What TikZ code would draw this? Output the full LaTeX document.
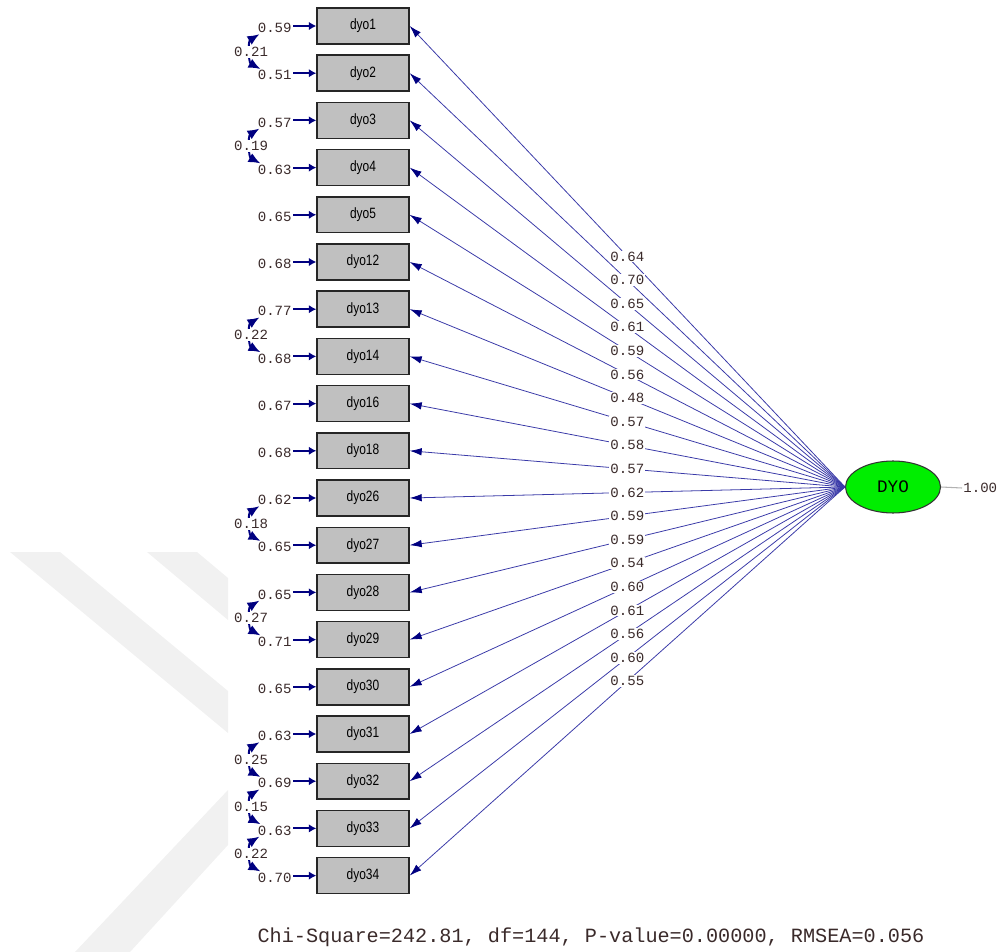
\documentclass[tikz,border=0pt]{standalone}
\usepackage{fontspec}
\usepackage{xcolor}
\usepackage{tikz}
\usetikzlibrary{positioning,arrows.meta,shapes.geometric}
\newfontfamily\monofont{Liberation Mono}
\newfontfamily\narrowfont[FakeStretch=0.8]{Liberation Sans}
\definecolor{PathNavy}{HTML}{000080}
\definecolor{LoadBlue}{HTML}{3A3AA8}
\definecolor{BoxGray}{HTML}{C0C0C0}
\definecolor{LatentGreen}{HTML}{00EE00}
\definecolor{NumDark}{HTML}{3A2A2A}
\definecolor{MarkGray}{HTML}{F1F1F1}

\tikzset{
  obsbox/.style={draw=black!85, fill=BoxGray, line width=0.8pt,
    minimum width=1.84cm, minimum height=0.72cm, inner sep=0pt,
    font=\narrowfont\fontsize{8.5}{9}\selectfont},
  latent/.style={ellipse, draw=black!80, fill=LatentGreen, line width=0.6pt,
    minimum width=1.9cm, minimum height=1.04cm, inner sep=0pt,
    font=\monofont\fontsize{10}{11}\selectfont},
  numtext/.style={inner sep=0.6pt, text=NumDark,
    font=\monofont\fontsize{8}{9}\selectfont},
  loadlabel/.style={numtext, fill=white, pos=0.5},
  loadarrow/.style={draw=LoadBlue, line width=0.45pt,
    -{Latex[length=0.24cm,width=0.15cm,color=PathNavy]}},
  errarrow/.style={draw=PathNavy, line width=1.2pt,
    -{Latex[length=0.15cm,width=0.17cm]}},
  covarrow/.style={draw=PathNavy, line width=1.1pt,
    {Latex[length=0.24cm,width=0.2cm]}-{Latex[length=0.24cm,width=0.2cm]}},
}

\begin{document}
\begin{tikzpicture}[x=0.02cm,y=-0.02cm]
  \useasboundingbox (0,0) rectangle (1000,952);

  % faint chevrons in the lower left corner
  \begin{scope}
    \clip (0,540) rectangle (228,952);
    \fill[MarkGray] (10,552) -- (60,552) -- (228,691) -- (228,733) -- cycle;
    \fill[MarkGray] (147,552) -- (197,552) -- (228,578) -- (228,620) -- cycle;
    \fill[MarkGray] (228,790) -- (228,845) -- (130,952) -- (75,952) -- cycle;
  \end{scope}

  % latent factor
  \node[latent] (DYO) at (893,487) {DYO};
  \node[numtext, anchor=west] (DYOvar) at (962,488) {1.00};
  \draw[gray!60, line width=0.6pt] (DYO.east) -- (DYOvar.west);

  % indicators, error variances and loadings
  \foreach \name/\load/\err [count=\i from 0] in {
      dyo1/0.64/0.59, dyo2/0.70/0.51, dyo3/0.65/0.57, dyo4/0.61/0.63,
      dyo5/0.59/0.65, dyo12/0.56/0.68, dyo13/0.48/0.77, dyo14/0.57/0.68,
      dyo16/0.58/0.67, dyo18/0.57/0.68, dyo26/0.62/0.62, dyo27/0.59/0.65,
      dyo28/0.59/0.65, dyo29/0.54/0.71, dyo30/0.60/0.65, dyo31/0.61/0.63,
      dyo32/0.56/0.69, dyo33/0.60/0.63, dyo34/0.55/0.70} {
    \node[obsbox] (\name) at (363,{26+47.2*\i}) {\name};
    \node[numtext, anchor=east] (e\name) at (293,{28+47.2*\i}) {\err};
    \draw[errarrow] (e\name.east |- \name.west) -- (\name.west);
    \draw[loadarrow] (DYO.west) -- node[loadlabel]{\load} (\name.east);
  }

  % error covariances
  \foreach \a/\b/\cov in {dyo1/dyo2/0.21, dyo3/dyo4/0.19, dyo13/dyo14/0.22,
      dyo26/dyo27/0.18, dyo28/dyo29/0.27, dyo31/dyo32/0.25,
      dyo32/dyo33/0.15, dyo33/dyo34/0.22} {
    \draw[covarrow] ([xshift=0.06cm]e\a.south west)
      to[bend right=60] node[numtext, fill=white]{\cov}
      ([xshift=0.08cm]e\b.north west);
  }

  \node[font=\monofont\fontsize{11.5}{13}\selectfont, text=NumDark] (fitstats)
    at (591,937) {Chi-Square=242.81, df=144, P-value=0.00000, RMSEA=0.056};
\end{tikzpicture}
\end{document}
